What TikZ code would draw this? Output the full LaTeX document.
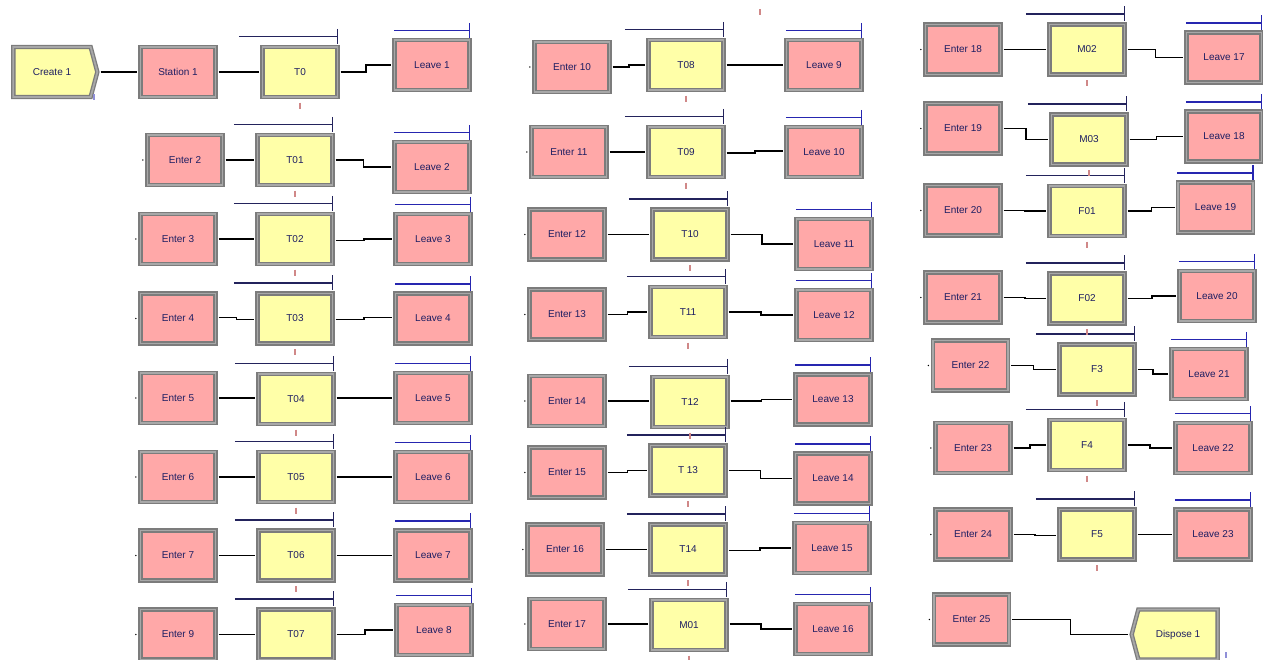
\documentclass[tikz,border=0pt]{standalone}
\usepackage{fontspec}
\setmainfont{Liberation Sans}
\usetikzlibrary{arrows.meta,calc,shapes.symbols}
\definecolor{modpink}{HTML}{FFA8A8}
\definecolor{modyellow}{HTML}{FFFFA8}
\definecolor{modframe}{HTML}{7C7C7C}
\definecolor{modband}{HTML}{A8A8A8}
\definecolor{modtext}{HTML}{1E1E62}
\definecolor{queuenavy}{HTML}{23235C}
\definecolor{queueblue}{HTML}{2626B0}
\definecolor{tallyrose}{HTML}{D08888}
\definecolor{tallyblue}{HTML}{9090D8}
\newcommand{\modfont}{\fontsize{10}{12}\selectfont}
\newcommand{\procbar}[1]{\draw[procq] ([xshift=-23pt,yshift=10pt]#1.north west) -- ([yshift=10pt]#1.north east);}
\newcommand{\leavebar}[1]{\draw[leaveq] ([yshift=9pt]#1.north west) -- ([yshift=9pt]#1.north east);}
\newcommand{\procmark}[1]{\draw[tally] ([yshift=-5pt]#1.south) -- ++(0,6);}
\newcommand{\entrydot}[1]{\fill ([xshift=-4pt]#1.west) circle (0.8pt);}

\begin{document}
\begin{tikzpicture}[x=1pt,y=-1pt,
  module/.style={draw=modframe, line width=1.3pt, double=modband, double distance=1.8pt,
    minimum width=75pt, minimum height=50pt, inner sep=0pt, font=\modfont, text=modtext},
  route/.style={module, fill=modpink},
  proc/.style={module, fill=modyellow},
  link/.style={line width=1.2pt, shorten <=2.5pt, shorten >=2.5pt,
    to path={-| ($(\tikztostart)!0.5!(\tikztotarget)$) |- (\tikztotarget)}},
  procq/.style={draw=queuenavy, line width=1.3pt, -{Bar[width=15pt,line width=1.3pt]}},
  leaveq/.style={procq, draw=queueblue},
  tally/.style={draw=tallyrose, line width=1.8pt}]
\useasboundingbox (0,0) rectangle (1263,659);

\node[proc, signal, signal to=east, signal pointer angle=150, minimum width=84pt] (cr) at (52,72) {Create 1};
\node[route] (st) at (178,72) {Station 1};
\node[proc] (t0) at (300,72) {T0};
\node[route] (l1) at (432,65) {Leave 1};
\node[route] (e2) at (185,160) {Enter 2};
\node[proc] (t01) at (295,160) {T01};
\node[route] (l2) at (432,167) {Leave 2};
\node[route] (e3) at (178,239) {Enter 3};
\node[proc] (t02) at (295,239) {T02};
\node[route] (l3) at (433,239) {Leave 3};
\node[route] (e4) at (178,318.5) {Enter 4};
\node[proc] (t03) at (295,318.5) {T03};
\node[route] (l4) at (433,318.5) {Leave 4};
\node[route] (e5) at (178,398) {Enter 5};
\node[proc] (t04) at (296,399) {T04};
\node[route] (l5) at (433,398) {Leave 5};
\node[route] (e6) at (178,477) {Enter 6};
\node[proc] (t05) at (296,477) {T05};
\node[route] (l6) at (433,477) {Leave 6};
\node[route] (e7) at (178,555.5) {Enter 7};
\node[proc] (t06) at (296,555.5) {T06};
\node[route] (l7) at (433,555.5) {Leave 7};
\node[route] (e9) at (178,634.5) {Enter 9};
\node[proc] (t07) at (296,634.5) {T07};
\node[route] (l8) at (434,630) {Leave 8};

\node[route] (e10) at (572,67) {Enter 10};
\node[proc] (t08) at (686,65) {T08};
\node[route] (l9) at (824,65) {Leave 9};
\node[route] (e11) at (569,152) {Enter 11};
\node[proc] (t09) at (686,152) {T09};
\node[route] (l10) at (824,152) {Leave 10};
\node[route] (e12) at (567,234.5) {Enter 12};
\node[proc] (t10) at (690,234.5) {T10};
\node[route] (l11) at (834,244) {Leave 11};
\node[route] (e13) at (567,314.5) {Enter 13};
\node[proc] (t11) at (688,312) {T11};
\node[route] (l12) at (834,315) {Leave 12};
\node[route] (e14) at (567,401) {Enter 14};
\node[proc] (t12) at (690,402) {T12};
\node[route] (l13) at (833,399.5) {Leave 13};
\node[route] (e15) at (567,472.5) {Enter 15};
\node[proc] (t13) at (688,470.5) {T 13};
\node[route] (l14) at (833,478.5) {Leave 14};
\node[route] (e16) at (565,549.5) {Enter 16};
\node[proc] (t14) at (688,549.5) {T14};
\node[route] (l15) at (832,548) {Leave 15};
\node[route] (e17) at (567,624) {Enter 17};
\node[proc] (m01) at (689,625) {M01};
\node[route] (l16) at (833,629) {Leave 16};

\node[route] (e18) at (963,49.5) {Enter 18};
\node[proc] (m02) at (1087,49.5) {M02};
\node[route] (l17) at (1224,57.5) {Leave 17};
\node[route] (e19) at (963,128.5) {Enter 19};
\node[proc] (m03) at (1089,139.5) {M03};
\node[route] (l18) at (1224,136.5) {Leave 18};
\node[route] (e20) at (963,210.5) {Enter 20};
\node[proc] (f01) at (1087,211) {F01};
\node[route] (l19) at (1215.5,207.5) {Leave 19};
\node[route] (e21) at (963,297.5) {Enter 21};
\node[proc] (f02) at (1087,298.5) {F02};
\node[route] (l20) at (1217,296) {Leave 20};
\node[route] (e22) at (970.5,365.5) {Enter 22};
\node[proc] (f3) at (1097,369.5) {F3};
\node[route] (l21) at (1209,374) {Leave 21};
\node[route] (e23) at (973,448) {Enter 23};
\node[proc] (f4) at (1087,445) {F4};
\node[route] (l22) at (1213,448) {Leave 22};
\node[route] (e24) at (973,534.5) {Enter 24};
\node[proc] (f5) at (1097,534.5) {F5};
\node[route] (l23) at (1213,534.5) {Leave 23};
\node[route] (e25) at (971.5,619.5) {Enter 25};
\node[proc, signal, signal to=west, signal pointer angle=150, minimum width=86pt] (dp) at (1178,634.5) {Dispose 1};

\draw[link] (cr.east) to (st.west);
\draw[link] (st.east) to (t0.west);
\draw[link] (t0.east) to (l1.west);
\draw[link] (e2.east) to (t01.west);
\draw[link] (t01.east) to (l2.west);
\draw[link] (e3.east) to (t02.west);
\draw[link] ([yshift=-1.5pt]t02.east) to (l3.west);
\draw[link] ([yshift=1pt]e4.east) to ([yshift=-1pt]t03.west);
\draw[link] ([yshift=-1pt]t03.east) to ([yshift=1pt]l4.west);
\draw[link] (e5.east) to ([yshift=1pt]t04.west);
\draw[link] ([yshift=1pt]t04.east) to (l5.west);
\draw[link] (e6.east) to (t05.west);
\draw[link] (t05.east) to (l6.west);
\draw[link] (e7.east) to (t06.west);
\draw[link] (t06.east) to (l7.west);
\draw[link] (e9.east) to (t07.west);
\draw[link] (t07.east) to (l8.west);

\draw[link] (e10.east) to (t08.west);
\draw[link] (t08.east) to (l9.west);
\draw[link] (e11.east) to (t09.west);
\draw[link] ([yshift=-1pt]t09.east) to ([yshift=1pt]l10.west);
\draw[link] (e12.east) to (t10.west);
\draw[link] (t10.east) to (l11.west);
\draw[link] (e13.east) to (t11.west);
\draw[link] (t11.east) to (l12.west);
\draw[link] (e14.east) to ([yshift=1pt]t12.west);
\draw[link] ([yshift=1pt]t12.east) to (l13.west);
\draw[link] (e15.east) to (t13.west);
\draw[link] (t13.east) to (l14.west);
\draw[link] (e16.east) to (t14.west);
\draw[link] ([yshift=-1pt]t14.east) to (l15.west);
\draw[link] (e17.east) to ([yshift=1pt]m01.west);
\draw[link] ([yshift=1pt]m01.east) to (l16.west);

\draw[link] (e18.east) to (m02.west);
\draw[link] (m02.east) to (l17.west);
\draw[link] (e19.east) to (m03.west);
\draw[link] (m03.east) to (l18.west);
\draw[link] (e20.east) to (f01.west);
\draw[link] (f01.east) to (l19.west);
\draw[link] (e21.east) to (f02.west);
\draw[link] (f02.east) to (l20.west);
\draw[link] (e22.east) to (f3.west);
\draw[link] (f3.east) to (l21.west);
\draw[link] (e23.east) to (f4.west);
\draw[link] (f4.east) to (l22.west);
\draw[link] (e24.east) to ([yshift=-1pt]f5.west);
\draw[link] (f5.east) to (l23.west);
\draw[link] (e25.east) to (dp.west);

\procbar{t0} \procbar{t01} \procbar{t02} \procbar{t03} \procbar{t04} \procbar{t05} \procbar{t06} \procbar{t07}
\procbar{t08} \procbar{t09} \procbar{t10} \procbar{t11} \procbar{t12} \procbar{t13} \procbar{t14} \procbar{m01}
\procbar{m02} \procbar{m03} \procbar{f01} \procbar{f02} \procbar{f3} \procbar{f4} \procbar{f5}
\leavebar{l1} \leavebar{l2} \leavebar{l3} \leavebar{l4} \leavebar{l5} \leavebar{l6} \leavebar{l7} \leavebar{l8}
\leavebar{l9} \leavebar{l10} \leavebar{l11} \leavebar{l12} \leavebar{l13} \leavebar{l14} \leavebar{l15} \leavebar{l16}
\leavebar{l17} \leavebar{l18} \leavebar{l19} \leavebar{l20} \leavebar{l21} \leavebar{l22} \leavebar{l23}

\procmark{t0} \procmark{t01} \procmark{t02} \procmark{t03} \procmark{t04} \procmark{t05} \procmark{t06} \procmark{t07}
\procmark{t08} \procmark{t09} \procmark{t10} \procmark{t11} \procmark{t12} \procmark{t13} \procmark{t14} \procmark{m01}
\procmark{m02} \procmark{m03} \procmark{f01} \procmark{f02} \procmark{f3} \procmark{f4} \procmark{f5}
\draw[tally] (760,9) -- ++(0,6);
\draw[tally, draw=tallyblue] (94,94) -- ++(0,6);
\draw[tally, draw=tallyblue] (1226,652) -- ++(0,6);

\entrydot{e2} \entrydot{e3} \entrydot{e4} \entrydot{e5} \entrydot{e6} \entrydot{e7} \entrydot{e9}
\entrydot{e10} \entrydot{e11} \entrydot{e12} \entrydot{e13} \entrydot{e14} \entrydot{e15} \entrydot{e16} \entrydot{e17}
\entrydot{e18} \entrydot{e19} \entrydot{e20} \entrydot{e21} \entrydot{e22} \entrydot{e23} \entrydot{e24} \entrydot{e25}
\end{tikzpicture}
\end{document}
